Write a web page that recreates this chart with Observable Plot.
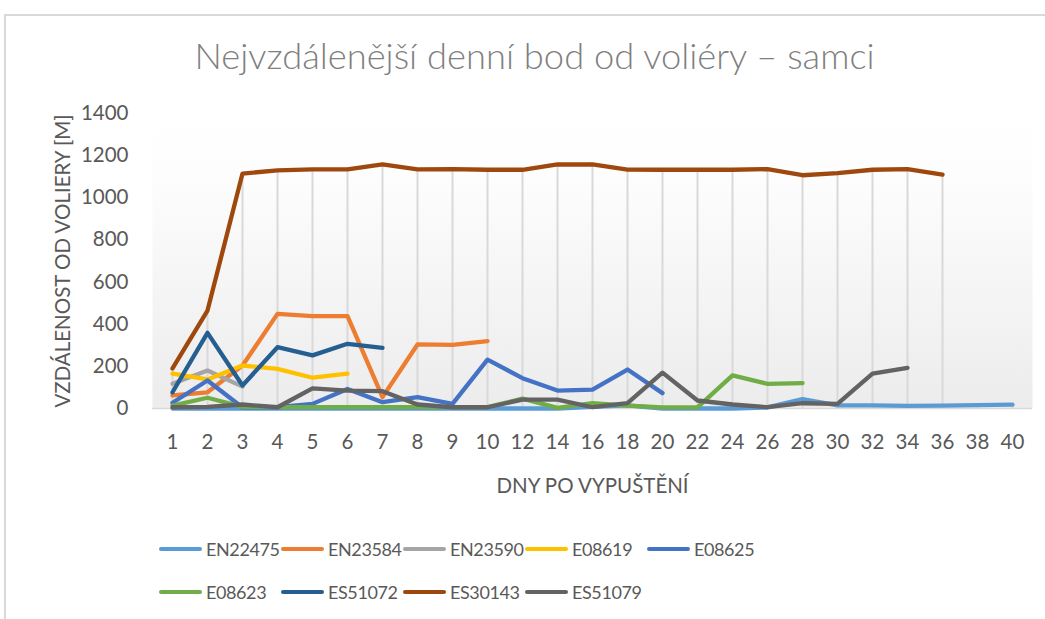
<!DOCTYPE html>
<html><head><meta charset="utf-8">
<script src="https://cdn.jsdelivr.net/npm/d3@7"></script>
<script src="https://cdn.jsdelivr.net/npm/@observablehq/plot@0.6"></script>
<style>
body{margin:0;background:#fff;font-family:Lato, "Open Sans", sans-serif;}
#wrap{position:relative;width:1045px;height:619px;overflow:hidden;}
#border{position:absolute;left:4px;top:14px;width:1100px;height:700px;border:2px solid #d9d9d9;box-sizing:border-box}
#title{position:absolute;top:33px;left:12px;width:1045px;text-align:center;font-size:36.3px;font-weight:300;line-height:44px;color:#7f7f7f;}
#chart{position:absolute;left:0;top:0}
#legend{position:absolute;left:159px;top:527px;display:grid;grid-template-columns:repeat(5,122px);grid-auto-rows:43px;}
.item{display:flex;align-items:center;font-size:18px;letter-spacing:-0.4px;color:#595959;white-space:nowrap}
.sw{width:43px;height:4px;border-radius:2px;margin-right:4px;flex:none}
</style></head>
<body>
<div id="wrap">
<div id="border"></div>
<div id="title">Nejvzdálenější denní bod od voliéry – samci</div>
<div id="chart"></div>
<div id="legend"></div>
</div>
<script>
const categories = ["1","2","3","4","5","6","7","8","9","10","12","14","16","18","20","22","24","26","28","30","32","34","36","38","40"];
const seriesNames = ["EN22475","EN23584","EN23590","E08619","E08625","E08623","ES51072","ES30143","ES51079"];
const seriesColors = ["#5B9BD5","#ED7D31","#A5A5A5","#FFC000","#4472C4","#70AD47","#255E91","#9E480E","#636363"];
const yTicks = [0,200,400,600,800,1000,1200,1400];

const EN22475 = [0,0,0,0,0,0,0,0,0,0,0,0,8,15,0,0,0,5,45,15,15,12,14,16,18];
const EN23584 = [62,77,204,449,438,438,54,304,302,320];
const EN23590 = [117,180,104];
const E08619  = [165,138,204,188,146,165];
const E08625  = [27,133,5,6,22,93,30,54,22,232,144,85,90,185,73];
const E08623  = [14,51,8,7,7,7,7,7,7,7,47,3,25,14,5,5,157,117,120];
const ES51072 = [77,359,109,291,252,307,288];
const ES30143 = [190,465,1115,1130,1135,1135,1158,1135,1136,1133,1133,1158,1158,1134,1133,1133,1133,1136,1107,1117,1133,1136,1110];
const ES51079 = [6,8,19,6,96,85,82,19,6,6,42,42,6,26,170,38,19,6,25,22,165,193];

const seriesValues = [EN22475,EN23584,EN23590,E08619,E08625,E08623,ES51072,ES30143,ES51079];

const rows = [];
seriesNames.forEach((name, si) => {
  categories.forEach((c, ci) => {
    const v = seriesValues[si][ci];
    rows.push({series: name, cat: c, v: v == null ? NaN : v});
  });
});
const maxRows = categories.map((c, ci) => ({cat: c, max: d3.max(seriesValues, s => s[ci])}));

const svg = Plot.plot({
  width: 1045,
  height: 510,
  marginTop: 113,
  marginBottom: 102,
  marginLeft: 152,
  marginRight: 13,
  style: {fontFamily: "Lato, 'Open Sans', sans-serif", color: "#595959", background: "transparent"},
  x: {type: "point", domain: categories, padding: 0.5, align: 0.5},
  y: {domain: [0, 1400]},
  color: {domain: seriesNames, range: seriesColors},
  marks: [
    Plot.frame({fill: "url(#bgGrad)", stroke: "none"}),
    Plot.ruleX(maxRows, {x: "cat", y1: 0, y2: "max", stroke: "#d9d9d9", strokeWidth: 2}),
    Plot.ruleY([0], {stroke: "#d9d9d9", strokeWidth: 1.5}),
    Plot.axisY({ticks: yTicks, tickFormat: d3.format("d"), tickSize: 0, tickPadding: 24, fontSize: 20.5, label: "VZDÁLENOST OD VOLIERY [M]", labelAnchor: "center", labelOffset: 97, labelArrow: "none"}),
    Plot.axisX({tickSize: 0, tickPadding: 26, fontSize: 20.5, label: "DNY PO VYPUŠTĚNÍ", labelAnchor: "center", labelOffset: 84, labelArrow: "none"}),
    Plot.line(rows, {x: "cat", y: "v", z: "series", stroke: "series", strokeWidth: 4.3, strokeLinecap: "round", strokeLinejoin: "round"})
  ]
});
const defs = d3.select(svg).insert("defs", ":first-child");
const grad = defs.append("linearGradient").attr("id", "bgGrad").attr("x1", 0).attr("y1", 0).attr("x2", 0).attr("y2", 1);
grad.append("stop").attr("offset", 0).attr("stop-color", "#ffffff");
grad.append("stop").attr("offset", 0.22).attr("stop-color", "#fdfdfd");
grad.append("stop").attr("offset", 1).attr("stop-color", "#ececec");
document.getElementById("chart").appendChild(svg);

const legend = d3.select("#legend");
seriesNames.forEach((n, i) => {
  const it = legend.append("div").attr("class", "item");
  it.append("div").attr("class", "sw").style("background", seriesColors[i]);
  it.append("span").text(n);
});
</script>
</body></html>
